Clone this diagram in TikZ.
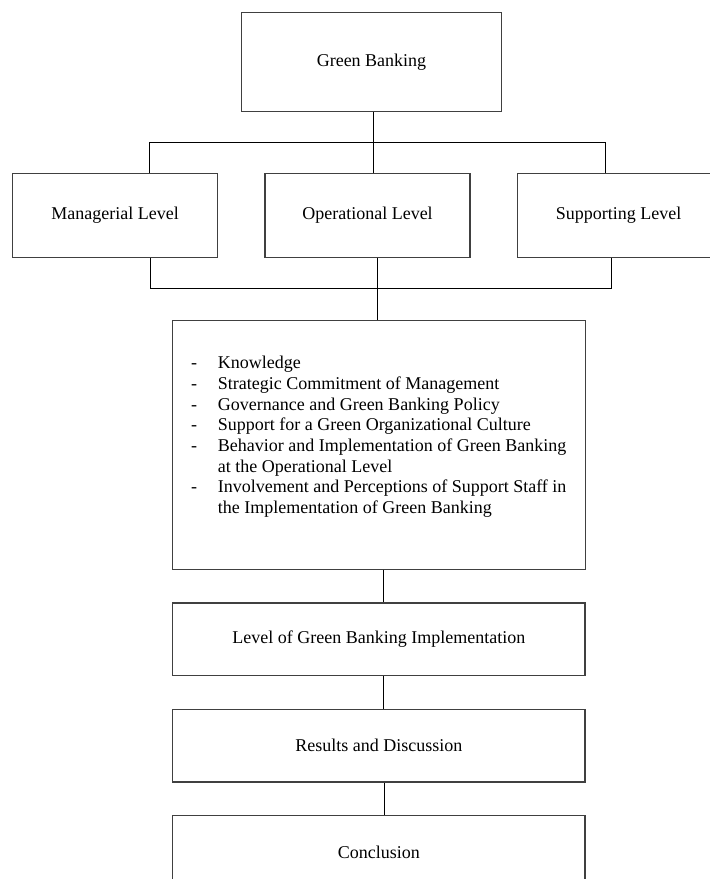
\documentclass[tikz,border=0pt]{standalone}
\usepackage{fontspec}
\setmainfont{Liberation Serif}
\usetikzlibrary{positioning}

\begin{document}
\begin{tikzpicture}[
        x=0.75pt, y=-0.75pt,
        node distance=24.3pt and 34.5pt,
        font=\fontsize{13.5}{15.5}\selectfont,
        box/.style={rectangle, draw=black!75, line width=1pt, align=center},
        levelbox/.style={box, minimum width=153.75pt, minimum height=63.3pt},
        stagebox/.style={box, minimum width=309.5pt, minimum height=54.45pt},
        link/.style={draw=black, line width=0.75pt}
    ]
        \useasboundingbox (0,0) rectangle (710,879);
        \clip (0,0) rectangle (710,879);

        \node[box, minimum width=195.3pt, minimum height=74.55pt] (green) at (371.5,62) {Green Banking};

        \node[levelbox] (operational) at (367.5,215.5) {Operational Level};
        \node[levelbox, left=of operational] (managerial) {Managerial Level};
        \node[levelbox, right=of operational, minimum width=160pt] (supporting) {Supporting Level\hspace{8pt}};

        \node[box, minimum width=309.75pt, minimum height=186.45pt] (factors) at (378.8,445) {%
            \begin{tabular}{@{}p{20pt}@{}l@{}}
                - & Knowledge\\
                - & Strategic Commitment of Management\\
                - & Governance and Green Banking Policy\\
                - & Support for a Green Organizational Culture\\
                - & Behavior and Implementation of Green Banking\\
                  & at the Operational Level\\
                - & Involvement and Perceptions of Support Staff in\\
                  & the Implementation of Green Banking\\[12pt]
            \end{tabular}};

        \node[stagebox, below=of factors] (implementation) {Level of Green Banking Implementation};
        \node[stagebox, below=of implementation] (results) {Results and Discussion};
        \node[stagebox, below=of results] (conclusion) {Conclusion};

        % junctions of the two bars
        \coordinate (topmid) at (373.6,142.3);
        \coordinate (topleft) at (149.5,142.3);
        \coordinate (topright) at (605.5,142.3);
        \coordinate (botmid) at (377,288.3);
        \coordinate (botleft) at (150.8,288.3);
        \coordinate (botright) at (611.4,288.3);

        \draw[link] (topmid |- green.south) -- (topmid |- operational.north);
        \draw[link] (topleft |- managerial.north) -- (topleft) -- (topright) -- (topright |- supporting.north);

        \draw[link] (botleft |- managerial.south) -- (botleft) -- (botright) -- (botright |- supporting.south);
        \draw[link] (botmid |- operational.south) -- (botmid |- factors.north);

        \draw[link] ([xshift=3.3pt]factors.south) -- ([xshift=3.3pt]factors.south |- implementation.north);
        \draw[link] ([xshift=3.6pt]implementation.south) -- ([xshift=3.6pt]implementation.south |- results.north);
        \draw[link] ([xshift=4pt]results.south) -- ([xshift=4pt]results.south |- conclusion.north);
    \end{tikzpicture}
\end{document}
